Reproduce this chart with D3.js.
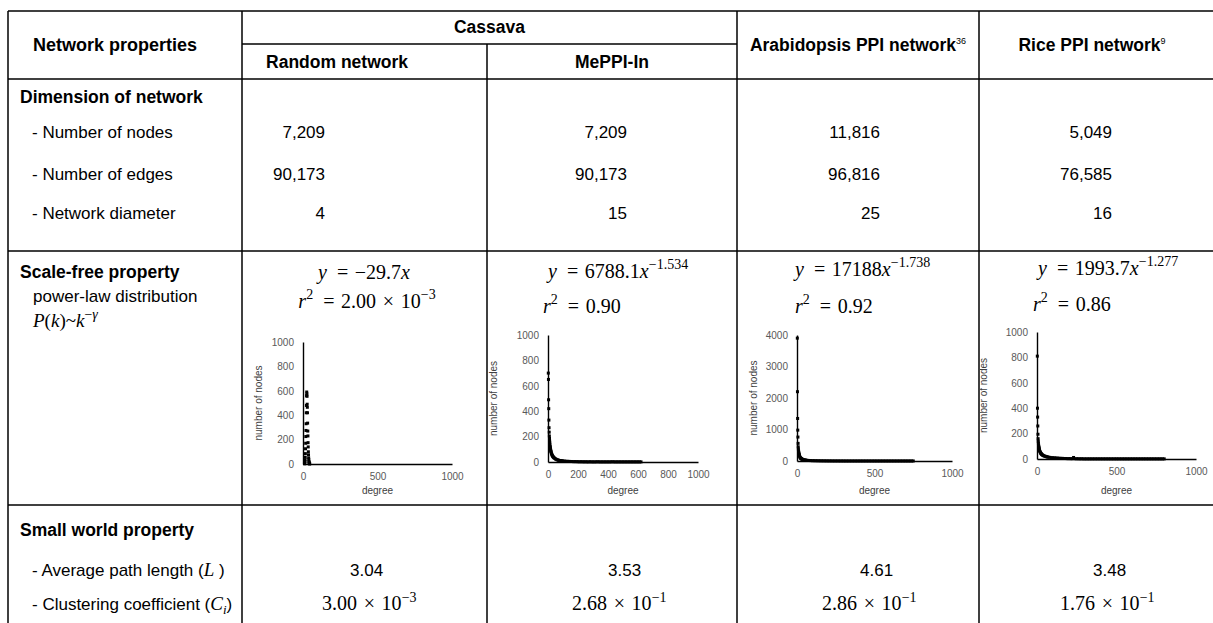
<!DOCTYPE html>
<html>
<head>
<meta charset="utf-8">
<script src="https://cdn.jsdelivr.net/npm/d3@7"></script>
<style>
  body { margin: 0; background: #fff; }
  svg { display: block; }
</style>
</head>
<body>
<script>
(function () {
  'use strict';

  // table contents
  const columns = ["Random network", "MePPI-In", "Arabidopsis PPI network", "Rice PPI network"];
  const columnRefs = ["", "", "36", "9"];
  const nodeCounts = ["7,209", "7,209", "11,816", "5,049"];
  const edgeCounts = ["90,173", "90,173", "96,816", "76,585"];
  const diameters = ["4", "15", "25", "16"];
  const fitCoef = ["−29.7", "6788.1", "17188", "1993.7"];
  const fitExp = ["", "−1.534", "−1.738", "−1.277"];
  const r2Values = ["2.00", "0.90", "0.92", "0.86"];
  const r2Exp = ["−3", "", "", ""];
  const pathLengths = ["3.04", "3.53", "4.61", "3.48"];
  const clustering = ["3.00", "2.68", "2.86", "1.76"];
  const clusteringExp = ["−3", "−1", "−1", "−1"];

  // mini chart axes
  const yMax = [1000, 1000, 4000, 1000];
  const yTicks = [
    [0, 200, 400, 600, 800, 1000],
    [0, 200, 400, 600, 800, 1000],
    [0, 1000, 2000, 3000, 4000],
    [0, 200, 400, 600, 800, 1000]
  ];
  const xTicks = [[0, 500, 1000], [0, 200, 400, 600, 800, 1000], [0, 500, 1000], [0, 500, 1000]];

  // degree distributions [degree, number of nodes]
  const randomDist = [[10,2],[11,5],[12,10],[13,20],[14,35],[15,55],[16,85],[17,125],[18,170],[19,225],
    [20,275],[21,330],[22,420],[23,480],[24,560],[25,590],[26,575],[27,555],[28,490],[29,465],[30,420],
    [31,335],[32,270],[33,230],[34,175],[35,140],[36,100],[37,75],[38,50],[39,35],[40,20],[41,12],
    [42,8],[43,4],[44,2],[45,1]];
  const meppiDist = [[2,700],[3,650],[4,490],[5,420],[6,330],[7,270],[8,235],[9,205],[10,185],[11,165],
    [12,150],[13,135],[14,122],[15,115],[16,105],[17,98],[18,92],[19,85],[20,80],[22,72],[24,65],[26,58],
    [28,52],[30,48],[32,44],[35,40],[38,36],[40,33],[45,28],[50,24],[55,21],[60,18],[65,16],[70,14],
    [75,12],[80,11],[85,10],[90,9],[95,8],[100,8],[110,7],[120,6],[130,5],[140,5],[150,4],[160,4],
    [170,3],[180,3],[190,3],[200,2],[210,2],[220,2],[230,2],[240,1],[250,2],[260,1],[270,1],[280,2],
    [290,1],[300,1],[310,1],[320,1],[330,2],[340,1],[350,1],[360,1],[370,1],[380,1],[390,1],[400,1],
    [410,1],[420,1],[430,2],[440,1],[450,1],[460,1],[470,1],[480,1],[490,1],[500,1],[510,1],[520,1],
    [530,1],[540,1],[550,1],[560,1],[570,1],[580,1],[590,1],[600,1],[610,1],[620,1]];
  const arabDist = [[2,3900],[3,2200],[4,1350],[5,980],[6,760],[7,560],[8,450],[9,380],[10,320],[11,280],
    [12,250],[13,220],[14,200],[15,180],[16,160],[18,135],[20,115],[22,100],[24,90],[26,80],[28,72],
    [30,65],[33,58],[36,50],[40,44],[45,38],[50,32],[55,28],[60,24],[70,20],[80,16],[90,13],[100,11],
    [110,10],[120,9],[130,8],[140,7],[150,6],[160,5],[170,5],[180,4],[190,4],[200,3],[210,3],[220,3],
    [230,2],[240,2],[250,2],[260,2],[270,2],[280,1],[290,2],[300,1],[310,1],[320,1],[330,1],[340,1],
    [350,1],[360,1],[370,1],[380,1],[390,1],[400,1],[410,1],[420,1],[430,1],[440,1],[450,1],[460,1],
    [470,1],[480,1],[490,1],[500,1],[510,1],[520,1],[530,1],[540,1],[550,1],[560,1],[570,1],[580,1],
    [590,1],[600,1],[610,1],[620,1],[630,1],[640,1],[650,1],[660,1],[670,1],[680,1],[690,1],[700,1],
    [710,1],[720,1],[730,1],[740,1],[750,1]];
  const riceDist = [[2,810],[3,400],[4,330],[5,260],[6,195],[7,160],[8,140],[9,125],[10,110],[11,100],
    [12,92],[13,85],[14,78],[15,72],[16,66],[18,60],[20,55],[22,50],[24,45],[26,42],[28,39],[30,36],
    [33,33],[36,30],[40,27],[45,24],[50,22],[55,20],[60,18],[65,16],[70,15],[80,13],[90,11],[100,10],
    [110,9],[120,8],[130,7],[140,6],[150,5],[160,5],[170,4],[180,4],[190,3],[200,3],[210,3],[220,2],
    [230,12],[240,2],[250,2],[260,2],[270,1],[280,2],[290,1],[300,1],[310,1],[320,1],[330,1],[340,1],
    [350,1],[360,1],[370,1],[380,1],[390,1],[400,1],[410,1],[420,1],[430,1],[440,1],[450,1],[460,1],
    [470,1],[480,1],[490,1],[500,1],[510,1],[520,1],[530,1],[540,1],[550,1],[560,1],[570,1],[580,1],
    [590,1],[600,1],[610,1],[620,1],[630,1],[640,1],[650,1],[660,1],[670,1],[680,1],[690,1],[700,1],
    [710,1],[720,1],[730,1],[740,1],[750,1],[760,1],[770,1],[780,1],[790,1],[800,1]];
  const dists = [randomDist, meppiDist, arabDist, riceDist];

  const W = 1213, H = 623;
  const sans = "'Liberation Sans', Arial, sans-serif";
  const serif = "'Liberation Serif', 'Times New Roman', serif";
  const sp = "\u2002";   // wide space around "="
  const tsp = "\u2004";  // narrower space around "×"

  const svg = d3.select("body").append("svg")
    .attr("width", W).attr("height", H)
    .style("font-family", sans);

  // column edges
  const colX = [8, 242, 487, 737, 979, W];

  // grid lines
  const lines = [
    [colX[0], 11, W, 11], [colX[1], 44, colX[3], 44], [colX[0], 79, W, 79],
    [colX[0], 251, W, 251], [colX[0], 505, W, 505],
    [colX[0], 11, colX[0], H], [colX[1], 11, colX[1], H], [colX[2], 44, colX[2], H],
    [colX[3], 11, colX[3], H], [colX[4], 11, colX[4], H]
  ];
  svg.append("g").selectAll("line").data(lines).join("line")
    .attr("x1", d => d[0]).attr("y1", d => d[1]).attr("x2", d => d[2]).attr("y2", d => d[3])
    .attr("stroke", "#000").attr("stroke-width", 1.5);

  function label(x, y, s, opt) {
    opt = opt || {};
    return svg.append("text")
      .attr("x", x).attr("y", y)
      .attr("text-anchor", opt.anchor || "start")
      .attr("font-size", opt.size || 17)
      .attr("font-weight", opt.bold ? "bold" : null)
      .attr("font-family", opt.family || sans)
      .text(s);
  }

  // header
  label(115, 51, "Network properties", {anchor: "middle", bold: true, size: 18});
  label((colX[1] + colX[3]) / 2, 33, "Cassava", {anchor: "middle", bold: true, size: 17.5});
  const headX = [337, 612, 858, 1092];
  columns.forEach((c, i) => {
    const cy = i < 2 ? 68 : 51;
    const t = label(headX[i], cy, c, {anchor: "middle", bold: true, size: 17.5});
    if (columnRefs[i]) {
      t.append("tspan").attr("dy", -7).attr("font-size", 9).attr("font-weight", "normal").text(columnRefs[i]);
    }
  });

  // dimension block
  label(20, 103, "Dimension of network", {bold: true, size: 17.5});
  const valueRight = [325, 627, 880, 1112];
  const dimRows = [["- Number of nodes", nodeCounts, 138], ["- Number of edges", edgeCounts, 180],
    ["- Network diameter", diameters, 219]];
  dimRows.forEach(r => {
    label(32, r[2], r[0]);
    r[1].forEach((v, i) => label(valueRight[i], r[2], v, {anchor: "end"}));
  });

  // scale-free block
  label(20, 278, "Scale-free property", {bold: true, size: 17.5});
  label(33, 302, "power-law distribution");
  const pk = label(33, 327, "", {family: serif, size: 19});
  pk.append("tspan").attr("font-style", "italic").text("P");
  pk.append("tspan").text("(");
  pk.append("tspan").attr("font-style", "italic").text("k");
  pk.append("tspan").text(")~");
  pk.append("tspan").attr("font-style", "italic").text("k");
  pk.append("tspan").attr("dy", -8).attr("font-size", 14).text("−");
  pk.append("tspan").attr("font-size", 14).attr("font-style", "italic").text("γ");

  const eqPos = [
    {ax: 364, anchor: "middle", y1: 279, rx: 367, y2: 308},
    {ax: 548, anchor: "start", y1: 278, rx: 543, y2: 313},
    {ax: 795, anchor: "start", y1: 276, rx: 795, y2: 313},
    {ax: 1038, anchor: "start", y1: 275, rx: 1033, y2: 311}
  ];
  eqPos.forEach((p, i) => {
    const a = label(p.ax, p.y1, "", {anchor: p.anchor, family: serif, size: 20});
    a.append("tspan").attr("font-style", "italic").text("y");
    a.append("tspan").text(sp + "=" + tsp + fitCoef[i]);
    a.append("tspan").attr("font-style", "italic").text("x");
    if (fitExp[i]) a.append("tspan").attr("dy", -9).attr("font-size", 14).text(fitExp[i]);

    const b = label(p.rx, p.y2, "", {anchor: p.anchor, family: serif, size: 20});
    b.append("tspan").attr("font-style", "italic").text("r");
    b.append("tspan").attr("dy", -9).attr("font-size", 14).text("2");
    b.append("tspan").attr("dy", 9).text(sp + "=" + tsp + r2Values[i] + (r2Exp[i] ? tsp + "×" + tsp + "10" : ""));
    if (r2Exp[i]) b.append("tspan").attr("dy", -9).attr("font-size", 14).text(r2Exp[i]);
  });

  // mini scatter charts
  const chartPos = [
    {left: 303, right: 452, top: 342, bottom: 464, titleX: 258},
    {left: 548, right: 698, top: 335, bottom: 462, titleX: 493},
    {left: 797, right: 952, top: 335, bottom: 461, titleX: 753},
    {left: 1037, right: 1196, top: 332, bottom: 459, titleX: 983}
  ];
  chartPos.forEach((c, i) => {
    const g = svg.append("g");
    const x = d3.scaleLinear().domain([0, 1000]).range([c.left, c.right]);
    const y = d3.scaleLinear().domain([0, yMax[i]]).range([c.bottom, c.top]);

    g.append("g").attr("transform", `translate(0,${c.bottom})`)
      .call(d3.axisBottom(x).tickValues(xTicks[i]).tickSize(0).tickPadding(9).tickFormat(d3.format("d")));
    g.append("g").attr("transform", `translate(${c.left},0)`)
      .call(d3.axisLeft(y).tickValues(yTicks[i]).tickSize(0).tickPadding(9).tickFormat(d3.format("d")));
    g.selectAll(".domain").attr("stroke", "#000").attr("stroke-width", 1.4);
    g.selectAll(".tick text").attr("fill", "#595959").attr("font-size", 10).attr("font-family", sans);

    g.append("g").selectAll("rect").data(dists[i]).join("rect")
      .attr("x", d => x(d[0]) - 1.5).attr("y", d => y(d[1]) - 1.5)
      .attr("width", 3).attr("height", 3).attr("fill", "#000");

    g.append("text").attr("x", (c.left + c.right) / 2).attr("y", 494)
      .attr("text-anchor", "middle").attr("font-size", 10).attr("fill", "#404040").text("degree");
    g.append("text").attr("transform", `translate(${c.titleX},${(c.top + c.bottom) / 2}) rotate(-90)`)
      .attr("text-anchor", "middle").attr("dy", "0.35em").attr("font-size", 10).attr("fill", "#404040")
      .text("number of nodes");
  });

  // small world block
  label(20, 536, "Small world property", {bold: true, size: 17.5});
  const apl = label(32, 576, "- Average path length (");
  apl.append("tspan").attr("font-family", serif).attr("font-style", "italic").attr("font-size", 19).text("L");
  apl.append("tspan").text(" )");
  const cc = label(32, 610, "- Clustering coefficient (");
  cc.append("tspan").attr("font-family", serif).attr("font-style", "italic").attr("font-size", 19).text("C");
  cc.append("tspan").attr("font-family", serif).attr("font-style", "italic").attr("font-size", 13).attr("dy", 4).text("i");
  cc.append("tspan").attr("dy", -4).text(")");

  const aplX = [350, 608, 860, 1093];
  const ccX = [322, 572, 822, 1060];
  pathLengths.forEach((v, i) => label(aplX[i], 576, v));
  clustering.forEach((v, i) => {
    const t = label(ccX[i], 610, "", {family: serif, size: 20});
    t.append("tspan").text(v + tsp + "×" + tsp + "10");
    t.append("tspan").attr("dy", -8).attr("font-size", 14).text(clusteringExp[i]);
  });
})();
</script>
</body>
</html>
